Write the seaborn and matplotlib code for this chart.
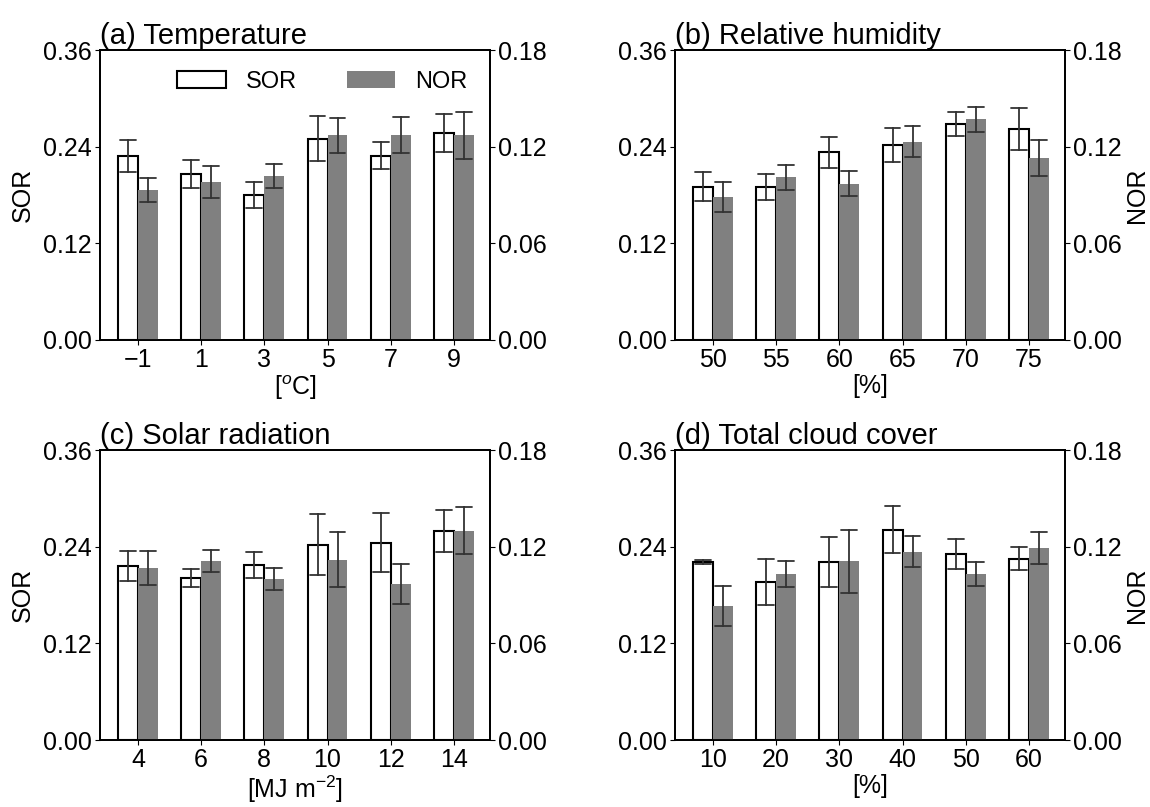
import numpy as np
import pandas as pd
import matplotlib
matplotlib.use("Agg")
import matplotlib.pyplot as plt
from matplotlib.patches import Patch
import seaborn as sns

# ---------------- data ----------------
temp_cats = ["\u22121", "1", "3", "5", "7", "9"]
temp_sor = [0.228, 0.206, 0.180, 0.250, 0.229, 0.257]
temp_sor_err = [0.020, 0.017, 0.016, 0.028, 0.017, 0.024]
temp_nor = [0.093, 0.098, 0.102, 0.127, 0.127, 0.127]
temp_nor_err = [0.0073, 0.0099, 0.0074, 0.0108, 0.0112, 0.0145]

rh_cats = ["50", "55", "60", "65", "70", "75"]
rh_sor = [0.190, 0.190, 0.233, 0.2425, 0.268, 0.262]
rh_sor_err = [0.018, 0.016, 0.019, 0.021, 0.0145, 0.026]
rh_nor = [0.089, 0.101, 0.097, 0.123, 0.137, 0.113]
rh_nor_err = [0.0093, 0.0078, 0.0079, 0.0097, 0.0078, 0.011]

sr_cats = ["4", "6", "8", "10", "12", "14"]
sr_sor = [0.216, 0.201, 0.217, 0.2425, 0.245, 0.260]
sr_sor_err = [0.019, 0.011, 0.016, 0.038, 0.0365, 0.026]
sr_nor = [0.107, 0.111, 0.100, 0.112, 0.097, 0.130]
sr_nor_err = [0.0106, 0.007, 0.0066, 0.0168, 0.0125, 0.0147]

tcc_cats = ["10", "20", "30", "40", "50", "60"]
tcc_sor = [0.221, 0.196, 0.221, 0.261, 0.231, 0.225]
tcc_sor_err = [0.0025, 0.0286, 0.0316, 0.029, 0.0182, 0.0141]
tcc_nor = [0.083, 0.103, 0.111, 0.117, 0.103, 0.119]
tcc_nor_err = [0.0125, 0.0083, 0.0195, 0.0098, 0.0077, 0.0099]

sor_ticks = [0.00, 0.12, 0.24, 0.36]
nor_ticks = [0.00, 0.06, 0.12, 0.18]
series = ["SOR", "NOR"]

# ---------------- style ----------------
sns.set_style("ticks")
plt.rcParams["font.family"] = ["Liberation Sans", "DejaVu Sans"]
plt.rcParams["mathtext.fontset"] = "custom"
plt.rcParams["mathtext.rm"] = "Liberation Sans"
plt.rcParams["mathtext.it"] = "Liberation Sans:italic"
plt.rcParams["text.color"] = "black"
plt.rcParams["axes.labelcolor"] = "black"
plt.rcParams["axes.titlecolor"] = "black"
plt.rcParams["axes.edgecolor"] = "black"
plt.rcParams["axes.linewidth"] = 1.3
plt.rcParams["xtick.color"] = "black"
plt.rcParams["ytick.color"] = "black"
plt.rcParams["xtick.major.size"] = 3.5
plt.rcParams["ytick.major.size"] = 3.5
plt.rcParams["xtick.major.pad"] = 2.5
plt.rcParams["ytick.major.pad"] = 2.5
FS = 18
FS_TITLE = 21
FS_LEG = 17

palette = {"SOR": "white", "NOR": "#808080"}
err_kws = {"color": "#333333", "linewidth": 1.3}


def minmax(x):
    return (np.min(x), np.max(x))


def long_df(cats, vals, errs, name):
    rows = []
    for c, v, e in zip(cats, vals, errs):
        rows.append((c, v - e, name))
        rows.append((c, v + e, name))
    return pd.DataFrame(rows, columns=["cat", "val", "series"])


def panel(ax, cats, sor, sor_err, nor, nor_err, title, xlabel, left_label, right_label):
    ax2 = ax.twinx()
    sns.barplot(data=long_df(cats, sor, sor_err, "SOR"), x="cat", y="val",
                hue="series", hue_order=series, order=cats, palette=palette,
                estimator="mean", errorbar=minmax, capsize=0.5, width=0.63,
                dodge=True, saturation=1, edgecolor="black", linewidth=1.5,
                err_kws=err_kws, legend=False, ax=ax)
    sns.barplot(data=long_df(cats, nor, nor_err, "NOR"), x="cat", y="val",
                hue="series", hue_order=series, order=cats, palette=palette,
                estimator="mean", errorbar=minmax, capsize=0.5, width=0.63,
                dodge=True, saturation=1, linewidth=0,
                err_kws=err_kws, legend=False, ax=ax2)
    ax.set_ylim(0, 0.36)
    ax2.set_ylim(0, 0.18)
    ax.set_xlim(-0.6, 5.57)
    ax.set_yticks(sor_ticks)
    ax.set_yticklabels([f"{t:.2f}" for t in sor_ticks], fontsize=FS)
    ax2.set_yticks(nor_ticks)
    ax2.set_yticklabels([f"{t:.2f}" for t in nor_ticks], fontsize=FS)
    ax.set_xticks(range(len(cats)))
    ax.set_xticklabels(cats, fontsize=FS)
    ax.set_xlabel(xlabel, fontsize=FS, labelpad=1)
    ax2.set_xlabel("")
    ax.set_ylabel("SOR" if left_label else "", fontsize=FS, labelpad=6)
    ax2.set_ylabel("NOR" if right_label else "", fontsize=FS, labelpad=2)
    ax.set_title(title, loc="left", fontsize=FS_TITLE, pad=3)
    for a in (ax, ax2):
        for s in a.spines.values():
            s.set_visible(True)
            s.set_color("black")
            s.set_linewidth(1.3)
    return ax2


fig = plt.figure(figsize=(11.5, 8.07), dpi=100)
W, H = 1150, 807
def pos(l, t, r, b):
    return [l / W, 1 - b / H, (r - l) / W, (b - t) / H]

ax_a = fig.add_axes(pos(100, 50, 490, 340))
ax_b = fig.add_axes(pos(675, 50, 1065, 340))
ax_c = fig.add_axes(pos(100, 450, 490, 740))
ax_d = fig.add_axes(pos(675, 450, 1065, 740))

panel(ax_a, temp_cats, temp_sor, temp_sor_err, temp_nor, temp_nor_err,
      "(a) Temperature", r"[$^{o}$C]", True, False)
panel(ax_b, rh_cats, rh_sor, rh_sor_err, rh_nor, rh_nor_err,
      "(b) Relative humidity", "[%]", False, True)
panel(ax_c, sr_cats, sr_sor, sr_sor_err, sr_nor, sr_nor_err,
      "(c) Solar radiation", r"[MJ m$^{-2}$]", True, False)
panel(ax_d, tcc_cats, tcc_sor, tcc_sor_err, tcc_nor, tcc_nor_err,
      "(d) Total cloud cover", "[%]", False, True)

handles = [Patch(facecolor=palette["SOR"], edgecolor="black", linewidth=1.5, label="SOR"),
           Patch(facecolor=palette["NOR"], edgecolor="none", label="NOR")]
leg = ax_a.legend(handles=handles, loc="center", bbox_to_anchor=(0.57, 0.89),
                  ncol=2, frameon=False, fontsize=FS_LEG, handlelength=2.07,
                  handleheight=0.72, columnspacing=2.1, handletextpad=0.85)
leg.set_zorder(10)

fig.savefig("out.png", dpi=100)
